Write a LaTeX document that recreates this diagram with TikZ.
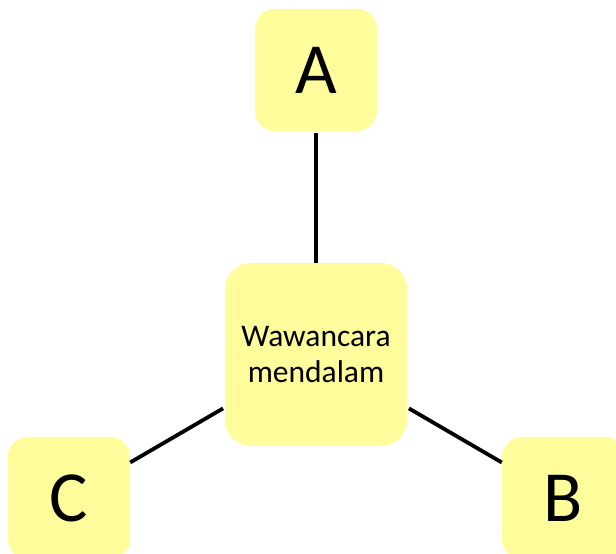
\documentclass[tikz,border=0pt]{standalone}
\usepackage{fontspec}
\setmainfont{Carlito}
\definecolor{boxyellow}{RGB}{255,252,155}
\begin{document}
\begin{tikzpicture}[x=1pt,y=1pt,
  ybox/.style={fill=boxyellow, draw=none, rounded corners=20pt, inner sep=0pt, align=center},
  letterbox/.style={ybox, minimum width=122pt, minimum height=122pt, font=\fontsize{72}{80}\selectfont},
  midbox/.style={ybox, rounded corners=26pt, minimum width=182pt, minimum height=183pt, font=\fontsize{31.5}{35.5}\selectfont},
  link/.style={draw=black, line width=3.8pt}]
\useasboundingbox (0,0) rectangle (616,554);
\clip (0,0) rectangle (616,554);
\node[letterbox] (a) at (316,484) {A};
\node[midbox] (m) at (316,199.5) {Wawancara\\mendalam};
\node[letterbox] (c) at (69,56) {C};
\node[letterbox] (b) at (563,56) {B};
\draw[link, shorten <=2pt] (a) -- (m);
\draw[link, shorten <=2pt] (m) -- (c);
\draw[link, shorten <=2pt] (m) -- (b);
\end{tikzpicture}
\end{document}
